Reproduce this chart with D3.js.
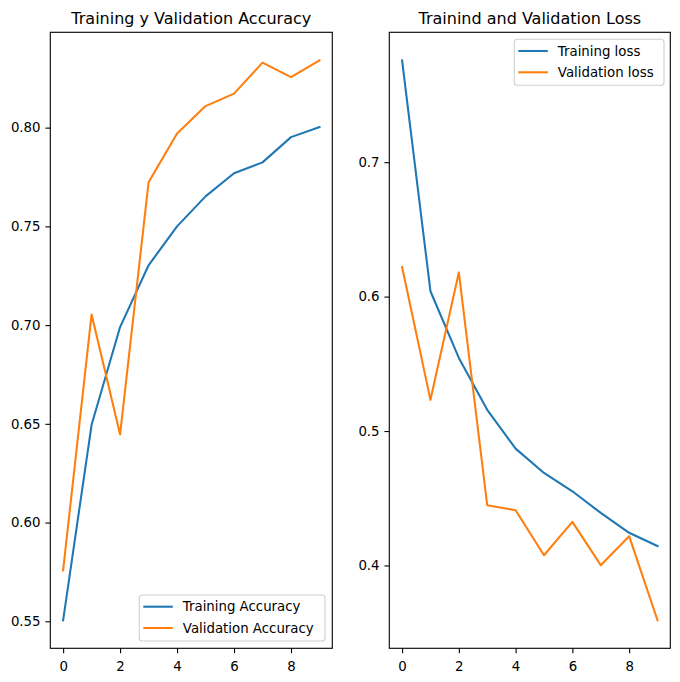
<!DOCTYPE html>
<html><head><meta charset="utf-8">
<script src="https://cdn.jsdelivr.net/npm/d3@7"></script>
<style>body{margin:0;background:#fff}svg{display:block;font-family:"DejaVu Sans",sans-serif}</style>
</head><body>
<script>
const epochs = [0,1,2,3,4,5,6,7,8,9];
const trainAcc = [0.5505,0.6495,0.699,0.7303,0.750,0.7652,0.7769,0.7824,0.7952,0.8003];
const valAcc = [0.5758,0.7054,0.6446,0.7723,0.797,0.8109,0.8172,0.8329,0.8256,0.8341];
const trainLoss = [0.7758,0.604,0.5544,0.5158,0.4869,0.4688,0.4552,0.4391,0.4243,0.4144];
const valLoss = [0.622,0.5232,0.618,0.4448,0.4411,0.4076,0.4324,0.4002,0.4218,0.3592];
const xTicks = [0,2,4,6,8];
const accTicks = [0.55,0.60,0.65,0.70,0.75,0.80];
const lossTicks = [0.4,0.5,0.6,0.7];

const W=680,H=682;
const svg=d3.select("body").append("svg").attr("width",W).attr("height",H);
const blue="#1f77b4", orange="#ff7f0e";

function pad(ext){const r=ext[1]-ext[0];return [ext[0]-0.05*r, ext[1]+0.05*r];}

function panel(o){
  const {x0,x1,y0,y1,title,series,yTicks,yFmt,legend}=o;
  const g=svg.append("g");
  const x=d3.scaleLinear().domain(pad(d3.extent(epochs))).range([x0,x1]);
  const all=series.flatMap(s=>s.values);
  const y=d3.scaleLinear().domain(pad(d3.extent(all))).range([y1,y0]);
  const clipId="clip"+Math.round(x0);
  svg.append("clipPath").attr("id",clipId).append("rect").attr("x",x0).attr("y",y0).attr("width",x1-x0).attr("height",y1-y0);
  const line=d3.line().x((d,i)=>x(epochs[i])).y(d=>y(d));
  series.forEach(s=>{
    g.append("path").attr("d",line(s.values)).attr("fill","none").attr("stroke",s.color)
     .attr("stroke-width",2.08).attr("stroke-linejoin","round").attr("stroke-linecap","square")
     .attr("clip-path",`url(#${clipId})`);
  });
  // axes
  const xa=d3.axisBottom(x).tickValues(xTicks).tickFormat(d3.format("d")).tickSize(4.86).tickPadding(4.86);
  const gx=g.append("g").attr("transform",`translate(0,${y1})`).call(xa);
  const ya=d3.axisLeft(y).tickValues(yTicks).tickFormat(yFmt).tickSize(4.86).tickPadding(4.86);
  const gy=g.append("g").attr("transform",`translate(${x0},0)`).call(ya);
  [gx,gy].forEach(a=>{
    a.select(".domain").remove();
    a.selectAll(".tick line").attr("stroke","#000").attr("stroke-width",1.1);
    a.selectAll(".tick text").attr("fill","#000").style("font-size","13.33px").style("font-family","DejaVu Sans");
  });
  gx.selectAll(".tick text").attr("dy","0.95em");
  g.append("rect").attr("x",x0).attr("y",y0).attr("width",x1-x0).attr("height",y1-y0)
   .attr("fill","none").attr("stroke","#000").attr("stroke-width",1.1);
  g.append("text").attr("x",(x0+x1)/2).attr("y",y0-8).attr("text-anchor","middle")
   .style("font-size","16px").text(title);
  // legend
  const L=legend;
  const lg=g.append("g");
  lg.append("rect").attr("x",L.x).attr("y",L.y).attr("width",L.w).attr("height",L.h).attr("rx",3)
    .attr("fill","#fff").attr("fill-opacity",0.8).attr("stroke","#d0d0d0").attr("stroke-width",1.1);
  series.forEach((s,i)=>{
    const yy=L.y+11.7+i*21.3;
    lg.append("line").attr("x1",L.x+4).attr("x2",L.x+33.5).attr("y1",yy).attr("y2",yy)
      .attr("stroke",s.color).attr("stroke-width",2.08);
    lg.append("text").attr("x",L.x+43.5).attr("y",yy).attr("dy","0.35em")
      .style("font-size","13.33px").text(s.name);
  });
}

panel({x0:50.3,x1:332.3,y0:32.3,y1:648.3,title:"Training y Validation Accuracy",
  series:[{name:"Training Accuracy",values:trainAcc,color:blue},{name:"Validation Accuracy",values:valAcc,color:orange}],
  yTicks:accTicks,yFmt:d3.format(".2f"),legend:{x:139.3,y:595,w:185.7,h:46}});
panel({x0:389.3,x1:670.3,y0:32.3,y1:648.3,title:"Trainind and Validation Loss",
  series:[{name:"Training loss",values:trainLoss,color:blue},{name:"Validation loss",values:valLoss,color:orange}],
  yTicks:lossTicks,yFmt:d3.format(".1f"),legend:{x:514.3,y:39.3,w:149.7,h:46}});
</script>
</body></html>
